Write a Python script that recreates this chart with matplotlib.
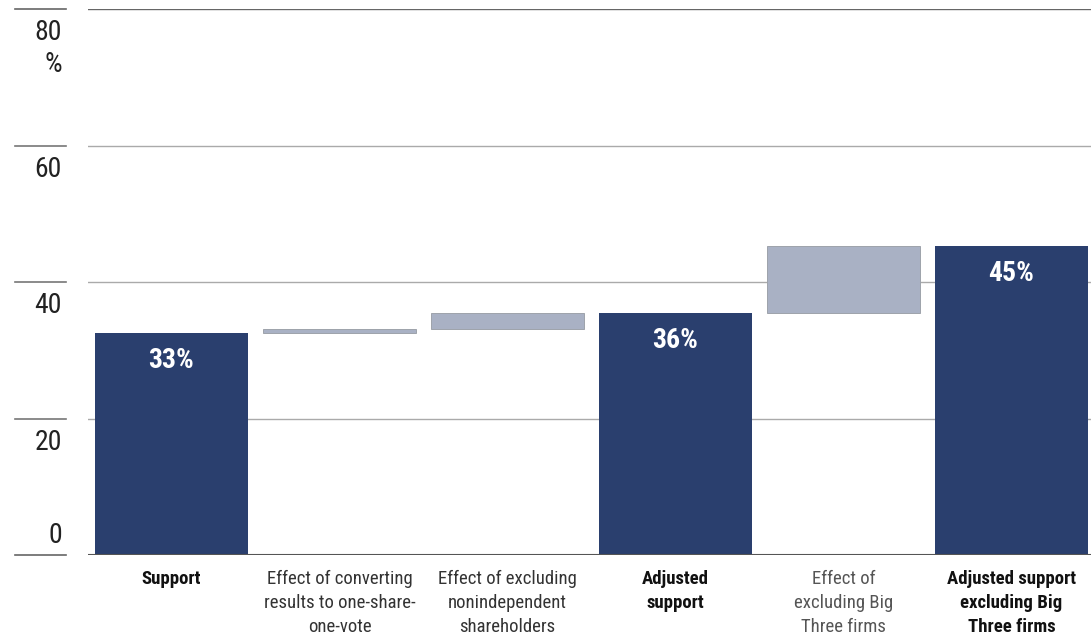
import matplotlib
matplotlib.use("Agg")
import matplotlib.pyplot as plt
from matplotlib.lines import Line2D
from matplotlib import font_manager as fm

# Waterfall of shareholder support
categories = [
    "Support",
    "Effect of converting\nresults to one-share-\none-vote",
    "Effect of excluding\nnonindependent\nshareholders",
    "Adjusted\nsupport",
    "Effect of\nexcluding Big\nThree firms",
    "Adjusted support\nexcluding Big\nThree firms",
]
values = [32.6, 0.5, 2.4, 35.5, 9.8, 45.3]
kinds = ["total", "delta", "delta", "total", "delta", "total"]
y_ticks = [0, 20, 40, 60, 80]

DARK = "#2a3f6e"
LIGHT = "#a9b1c4"


def _is_narrow(f):
    if "Condensed" in f.name or "Narrow" in f.name:
        return True
    st = f.stretch
    if isinstance(st, (int, float)):
        return st < 500
    return st in ("condensed", "semi-condensed", "extra-condensed", "ultra-condensed")


def _weight(f):
    w = f.weight
    if isinstance(w, str):
        return {"normal": 400, "regular": 400, "bold": 700}.get(w, 400)
    return w


def pick_narrow(bold):
    target = 700 if bold else 400
    cands = [f for f in fm.fontManager.ttflist
             if _is_narrow(f) and f.style == "normal"]
    pref = ["Roboto Condensed", "Liberation Sans Narrow", "Open Sans",
            "Noto Sans", "Inter", "Lato"]
    best, key = None, None
    for f in cands:
        rank = pref.index(f.name) if f.name in pref else len(pref)
        k = (abs(_weight(f) - target), rank)
        if key is None or k < key:
            best, key = f, k
    if best is None:
        return fm.FontProperties(family="DejaVu Sans",
                                 weight="bold" if bold else "normal")
    return fm.FontProperties(fname=best.fname)


FP_REG = pick_narrow(False)
FP_BOLD = pick_narrow(True)


def fp(size, bold=False):
    p = (FP_BOLD if bold else FP_REG).copy()
    p.set_size(size)
    return p


fig = plt.figure(figsize=(10.91, 6.38), dpi=100)
ax = fig.add_axes([88 / 1091, 1 - 555 / 638, 1 - 88 / 1091, (555 - 9) / 638])
ax.set_xlim(-0.497, 5.473)
ax.set_ylim(0, 80)

running = 0.0
for i, (v, k) in enumerate(zip(values, kinds)):
    if k == "total":
        ax.bar(i, v, width=0.91, color=DARK, zorder=3)
        running = v
        ax.annotate(f"{int(v + 0.5)}%", xy=(i, v), xytext=(0, -10.5),
                    textcoords="offset points", ha="center", va="top",
                    color="white", fontproperties=fp(20, True), zorder=4)
    else:
        ax.bar(i, v, bottom=running, width=0.91, color=LIGHT,
               edgecolor="#9ea3ab", linewidth=0.7, zorder=3)
        running += v

# Horizontal grid
for t in y_ticks[1:-1]:
    ax.axhline(t, color="#aaaaaa", linewidth=1.0, zorder=1)
ax.axhline(80, color="#666666", linewidth=1.0, zorder=1)
ax.axhline(0, color="#555555", linewidth=1.5, zorder=5)

for s in ax.spines.values():
    s.set_visible(False)
ax.set_xticks([])
ax.set_yticks([])

# Y labels with short rules to the left of the plot
tr = ax.get_yaxis_transform()
for t in y_ticks:
    col = "#666666" if t in (0, 80) else "#777777"
    ax.add_line(Line2D([-73 / 1003, -22 / 1003], [t, t], transform=tr,
                       color=col, linewidth=1.2, clip_on=False))
    if t == 0:
        ax.annotate("0", xy=(-26 / 1003, t), xycoords=tr, xytext=(0, 4),
                    textcoords="offset points", ha="right", va="bottom",
                    fontproperties=fp(20), color="#222222",
                    annotation_clip=False)
    else:
        lab = "80\n%" if t == 80 else str(t)
        ax.annotate(lab, xy=(-26 / 1003, t), xycoords=tr, xytext=(0, -7.5),
                    textcoords="offset points", ha="right", va="top",
                    multialignment="right", linespacing=1.2,
                    fontproperties=fp(20), color="#222222",
                    annotation_clip=False)

# Category labels
label_colors = ["#111111", "#333333", "#333333", "#111111", "#555555", "#111111"]
bold = [True, False, False, True, False, True]
for i, (c, col, b) in enumerate(zip(categories, label_colors, bold)):
    ax.annotate(c, xy=(i, 0), xycoords="data", xytext=(0, -11),
                textcoords="offset points", ha="center", va="top",
                multialignment="center", linespacing=1.42,
                fontproperties=fp(13.5, b), color=col,
                annotation_clip=False)

fig.savefig("out.png", dpi=100)
